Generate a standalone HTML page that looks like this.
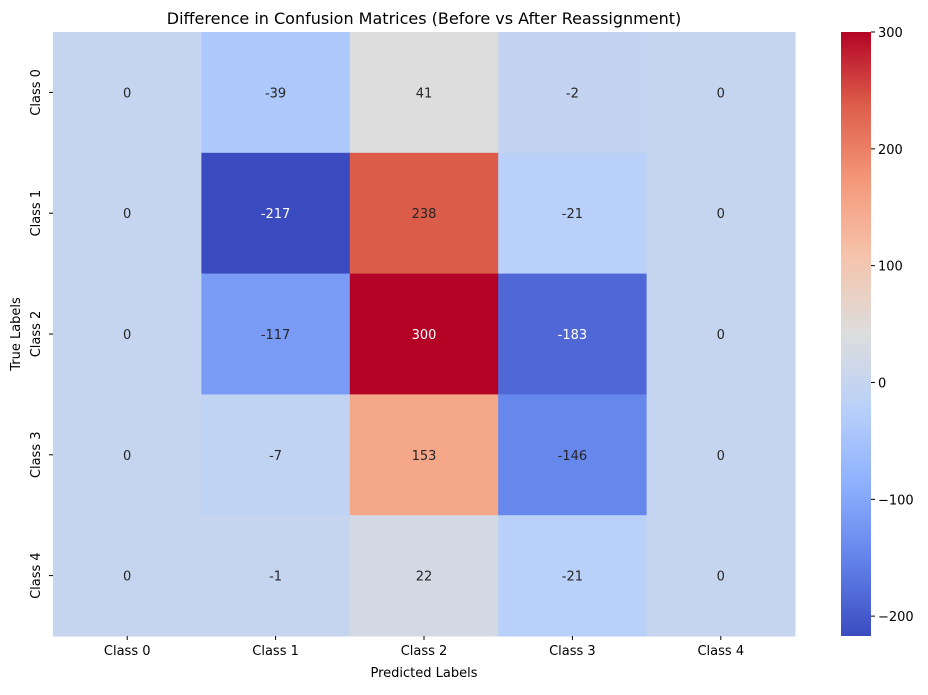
<!DOCTYPE html>
<html><head><meta charset="utf-8"><style>
body{margin:0;background:#fff;font-family:"Liberation Sans","DejaVu Sans",sans-serif;}
svg text{font-family:"DejaVu Sans","Liberation Sans",sans-serif;}
</style></head><body>
<svg id="chart" width="928" height="690" xmlns="http://www.w3.org/2000/svg">
<defs><linearGradient id="cbg" x1="0" y1="1" x2="0" y2="0"></linearGradient></defs>
<text x="424" y="24" font-size="16" text-anchor="middle" fill="#000">Difference in Confusion Matrices (Before vs After Reassignment)</text>
<g id="cells"></g><g id="axes"></g><g id="cbar"></g>
<text x="424" y="677" font-size="13" text-anchor="middle">Predicted Labels</text>
<text transform="translate(20,334) rotate(-90)" font-size="13" text-anchor="middle">True Labels</text>
</svg>
<script>
const rowLabels=["Class 0","Class 1","Class 2","Class 3","Class 4"];
const colLabels=["Class 0","Class 1","Class 2","Class 3","Class 4"];
const row0=[0,-39,41,-2,0];
const row1=[0,-217,238,-21,0];
const row2=[0,-117,300,-183,0];
const row3=[0,-7,153,-146,0];
const row4=[0,-1,22,-21,0];
const cbTicks=[-200,-100,0,100,200,300];
const values=[row0,row1,row2,row3,row4];
const NS="http://www.w3.org/2000/svg";
const L=53,T=32,R=795,B=636,vmin=-217,vmax=300;
const cw=(R-L)/5,ch=(B-T)/5;
const stops=[[59,76,192],[98,130,234],[141,176,254],[184,208,249],[221,221,221],[245,196,173],[244,154,123],[222,96,76],[180,4,38]];
function cmap(t){t=Math.max(0,Math.min(1,t));const p=t*8,i=Math.min(7,Math.floor(p)),f=p-i;const a=stops[i],b=stops[i+1];return `rgb(${a.map((v,k)=>Math.round(v+(b[k]-v)*f)).join(',')})`;}
function lum(t){t=Math.max(0,Math.min(1,t));const p=t*8,i=Math.min(7,Math.floor(p)),f=p-i;const a=stops[i],b=stops[i+1];const c=a.map((v,k)=>v+(b[k]-v)*f);return (0.299*c[0]+0.587*c[1]+0.114*c[2]);}
function el(tag,attrs,parent){const e=document.createElementNS(NS,tag);for(const k in attrs)e.setAttribute(k,attrs[k]);parent.appendChild(e);return e;}
const cells=document.getElementById('cells'),axes=document.getElementById('axes'),cbar=document.getElementById('cbar');
values.forEach((row,r)=>row.forEach((v,c)=>{
 const t=(v-vmin)/(vmax-vmin);
 const rect=el('rect',{x:L+c*cw,y:T+r*ch,width:cw+0.5,height:ch+0.5,fill:cmap(t)},cells);
 
 
 const tx=el('text',{x:L+(c+.5)*cw,y:T+(r+.5)*ch+5,'font-size':13,'text-anchor':'middle',fill:lum(t)<128?'#fff':'#262626'},cells);
 tx.textContent=v;
 
 
}));
colLabels.forEach((s,i)=>{const x=L+(i+.5)*cw;
 el('line',{x1:x,x2:x,y1:B,y2:B+4,stroke:'#000'},axes);
 const t=el('text',{x:x,y:B+19,'font-size':13,'text-anchor':'middle'},axes);t.textContent=s;
 
 });
rowLabels.forEach((s,i)=>{const y=T+(i+.5)*ch;
 el('line',{x1:L-4,x2:L,y1:y,y2:y,stroke:'#000'},axes);
 const t=el('text',{transform:`translate(40,${y}) rotate(-90)`,'font-size':13,'text-anchor':'middle'},axes);t.textContent=s;
 
 });
const g=document.getElementById('cbg');
for(let i=0;i<=16;i++){el('stop',{offset:i/16,'stop-color':cmap(i/16)},g);}
const CL=841,CR=871,cy=v=>B-(v-vmin)/(vmax-vmin)*(B-T);
const cb=el('rect',{x:CL,y:T,width:CR-CL,height:B-T,fill:'url(#cbg)'},cbar);


cbTicks.forEach(v=>{const y=cy(v);
 el('line',{x1:CR,x2:CR+4,y1:y,y2:y,stroke:'#000'},cbar);
 const t=el('text',{x:CR+7,y:y+5,'font-size':13},cbar);t.textContent=v<0?'\u2212'+(-v):v;
 
 });
</script>
</body></html>
